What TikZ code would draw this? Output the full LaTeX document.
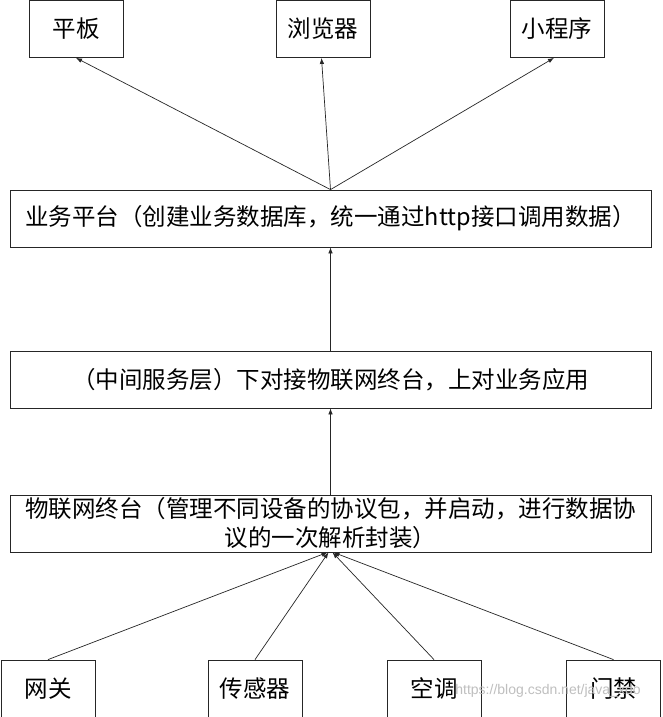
\documentclass[tikz,border=0pt]{standalone}
\usepackage{fontspec}
\setmainfont{Noto Sans CJK SC}
\newfontfamily\wmfont{Liberation Sans}
\usetikzlibrary{arrows.meta}
\begin{document}
\begin{tikzpicture}[x=1pt,y=-1pt,
  box/.style={draw=black!85,line width=0.8pt,rectangle,inner sep=0pt,
    minimum height=57pt,font=\fontsize{23.5}{29}\selectfont},
  small/.style={box,minimum width=94pt},
  wide/.style={box,minimum width=641pt},
  conn/.style={draw=black!85,line width=0.7pt,-{Latex[length=6pt,width=4.5pt]}}]
\useasboundingbox (0,0) rectangle (662,717);
\fill[white] (0,0) rectangle (662,717);
% top
\node[small] (pb) at (76,29) {平板};
\node[small] (llq) at (323,29) {浏览器};
\node[small] (xcx) at (557,29) {小程序};
% business
\node[wide] (biz) at (330.5,218.5) {业务平台（创建业务数据库，统一通过http接口调用数据）};
% middle
\node[wide] (mid) at (330.5,379.5) {（中间服务层）下对接物联网终台，上对业务应用};
% terminal
\node[wide,align=center] (term) at (330.5,523.5) {物联网终台（管理不同设备的协议包，并启动，进行数据协\\议的一次解析封装）};
% bottom
\node[small] (wg) at (48,688.5) {网关};
\node[small] (cgq) at (255,688.5) {传感器};
\node[small] (kt) at (434,688.5) {空调};
\node[small] (mj) at (613.5,688.5) {门禁};
% connectors
\draw[conn] (biz.north) -- (pb.south);
\draw[conn] (biz.north) -- ([xshift=-1.5pt]llq.south);
\draw[conn] (biz.north) -- ([xshift=-3pt]xcx.south);
\draw[conn] (mid.north) -- (biz.south);
\draw[conn] (term.north) -- (mid.south);
\draw[conn] (wg.north) -- ([xshift=-3pt]term.south);
\draw[conn] (cgq.north) -- ([xshift=-2pt]term.south);
\draw[conn] (kt.north) -- ([xshift=2pt]term.south);
\draw[conn] (mj.north) -- ([xshift=3pt]term.south);
% watermark
\node[text=black!25,font=\wmfont\fontsize{14}{16}\selectfont,inner sep=0pt] (wm) at (548,691) {https://blog.csdn.net/java\_xdo};
\end{tikzpicture}
\end{document}
